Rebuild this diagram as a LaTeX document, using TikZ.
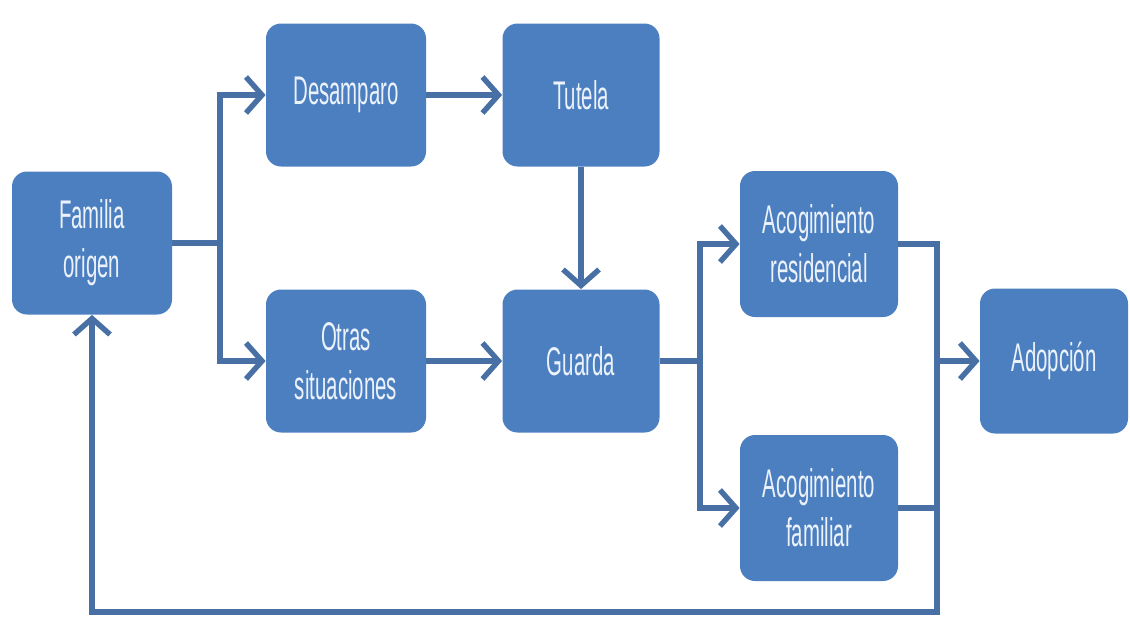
\documentclass[tikz,border=0pt]{standalone}
\usepackage{fontspec}
\newfontfamily\boxfont[FakeStretch=0.51]{Liberation Sans}
\usetikzlibrary{arrows.meta}
\definecolor{boxblue}{RGB}{76,127,192}
\definecolor{linkblue}{RGB}{72,112,165}
\definecolor{boxtext}{RGB}{236,242,250}

\begin{document}
\begin{tikzpicture}[x=0.5pt, y=-0.5pt,
    stage/.style={fill=boxblue, draw=none, rounded corners=7.5pt,
      minimum width=80pt, minimum height=71.5pt, align=center,
      text=boxtext, font=\boxfont\fontsize{20}{24.5}\selectfont},
    link/.style={linkblue, line width=2.7pt, line join=miter},
    flow/.style={link, -{Straight Barb[length=8pt, width=18pt, line width=2.7pt]}}]
      \useasboundingbox (0,0) rectangle (1130,623);
      \node[stage] (famil) at (92,243) {Familia\\origen};
      \node[stage] (desamp) at (346,95) {Desamparo};
      \node[stage, minimum width=78.5pt] (tutela) at (581,95) {Tutela};
      \node[stage] (otras) at (346,361) {Otras\\situaciones};
      \node[stage, minimum width=78.5pt] (guarda) at (581,361) {Guarda};
      \node[stage, minimum width=79pt, minimum height=73pt] (acores) at (819,244) {Acogimiento\\residencial};
      \node[stage, minimum width=79pt, minimum height=73pt] (acofam) at (819,508) {Acogimiento\\familiar};
      \node[stage, minimum width=74pt, minimum height=72.5pt] (adopc) at (1054,361) {Adopción};
      \coordinate (split1) at (220,243);
      \coordinate (split2) at (700,361);
      \coordinate (merge) at (937,361);
      \coordinate (loopc) at (937,612);
      % entrada desde la familia
      \draw[link] (famil) -- (split1);
      \draw[flow] (split1) |- (desamp);
      \draw[flow] (split1) |- (otras);
      \draw[flow] (desamp) -- (tutela);
      \draw[flow] (tutela) -- (guarda);
      \draw[flow] (otras) -- (guarda);
      % acogimientos
      \draw[link] (guarda) -- (split2);
      \draw[flow] (split2) |- (acores);
      \draw[flow] (split2) |- (acofam);
      \draw[link] (acofam) -- (acofam -| merge);
      \draw[flow] (merge) -- (adopc);
      % vuelta a la familia de origen
      \draw[flow] (acores) -| (loopc) -| (famil);
    \end{tikzpicture}
\end{document}
